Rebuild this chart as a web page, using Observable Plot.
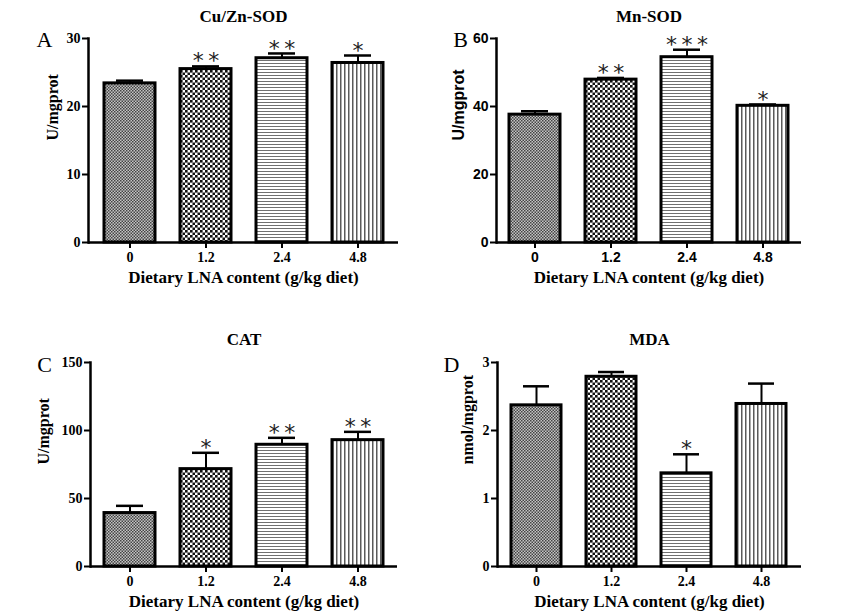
<!DOCTYPE html>
<html>
<head>
<meta charset="utf-8">
<script src="https://cdn.jsdelivr.net/npm/d3@7"></script>
<script src="https://cdn.jsdelivr.net/npm/@observablehq/plot@0.6"></script>
<style>
  html, body { margin: 0; padding: 0; background: #fff; }
  #wrap { position: relative; width: 850px; height: 611px; background: #fff; overflow: hidden; }
  #wrap > svg.panel { position: absolute; }
</style>
</head>
<body>
<svg width="0" height="0" style="position:absolute">
  <defs>
    <pattern id="p0" patternUnits="userSpaceOnUse" width="3" height="3">
      <rect width="3" height="3" fill="#c4c4c4"></rect>
      <rect x="0" y="0" width="1.5" height="1.5" fill="#444"></rect>
      <rect x="1.5" y="1.5" width="1.5" height="1.5" fill="#444"></rect>
    </pattern>
    <pattern id="p1" patternUnits="userSpaceOnUse" width="5" height="5">
      <rect width="5" height="5" fill="#ffffff"></rect>
      <rect x="0" y="0" width="2.6" height="2.6" fill="#111"></rect>
      <rect x="2.5" y="2.5" width="2.6" height="2.6" fill="#111"></rect>
    </pattern>
    <pattern id="p2" patternUnits="userSpaceOnUse" width="4" height="3">
      <rect width="4" height="3" fill="#ffffff"></rect>
      <rect x="0" y="0" width="4" height="1" fill="#707070"></rect>
    </pattern>
    <pattern id="p3" patternUnits="userSpaceOnUse" width="4" height="4">
      <rect width="4" height="4" fill="#ffffff"></rect>
      <rect x="0" y="0" width="1.5" height="4" fill="#5a5a5a"></rect>
    </pattern>
  </defs>
</svg>
<div id="wrap"></div>
<script>
// ---- data ----
const doses = ["0", "1.2", "2.4", "4.8"];
const patterns = ["url(#p0)", "url(#p1)", "url(#p2)", "url(#p3)"];

const cuZnSod = [23.4, 25.5, 27.1, 26.4];
const cuZnSodErr = [0.4, 0.4, 0.7, 1.1];
const cuZnSodStars = ["", "**", "**", "*"];

const mnSod = [37.6, 47.9, 54.5, 40.2];
const mnSodErr = [1.0, 0.5, 2.2, 0.4];
const mnSodStars = ["", "**", "***", "*"];

const cat = [39.3, 71.6, 89.5, 92.9];
const catErr = [5.3, 12.0, 5.1, 6.1];
const catStars = ["", "*", "**", "**"];

const mda = [2.37, 2.79, 1.37, 2.39];
const mdaErr = [0.28, 0.07, 0.28, 0.30];
const mdaStars = ["", "", "*", ""];

const xTitle = "Dietary LNA content (g/kg diet)";

const SERIF = "'Liberation Serif', 'Times New Roman', serif";
const SANS = "'Liberation Sans', Arial, sans-serif";

function panel(cfg) {
  const data = doses.map((d, i) => ({
    dose: d, value: cfg.values[i], err: cfg.errs[i],
    stars: cfg.stars[i].split("").join("\u2009")
  }));
  const tickFont = cfg.tickFont;
  const marks = [];
  doses.forEach((d, i) => {
    marks.push(Plot.barY(data, {
      filter: r => r.dose === d, x: "dose", y: "value",
      fill: patterns[i], stroke: "black", strokeWidth: 3
    }));
  });
  marks.push(
    Plot.ruleX(data, {x: "dose", y1: "value", y2: r => r.value + r.err, stroke: "black", strokeWidth: 2}),
    Plot.tickY(data, {x: "dose", y: r => r.value + r.err, stroke: "black", strokeWidth: 2.5, insetLeft: 12, insetRight: 12}),
    Plot.text(data, {x: "dose", y: r => r.value + r.err, text: "stars", dy: -5, fontSize: 22, fontFamily: "'DejaVu Sans', sans-serif", fill: "#222"}),
    Plot.ruleY([0], {stroke: "black", strokeWidth: 2.5}),
    Plot.frame({anchor: "left", stroke: "black", strokeWidth: 2.5}),
    Plot.axisY({ticks: cfg.ticks, tickFormat: d3.format("~g"), tickSize: 6, tickPadding: 2, strokeWidth: 2, fontSize: 14, fontWeight: "bold", fontFamily: tickFont, label: null}),
    Plot.axisX({tickSize: 6, tickPadding: 4, strokeWidth: 2, fontSize: 14, fontWeight: "bold", fontFamily: tickFont, label: null}),
    Plot.text([cfg.title], {frameAnchor: "top", dy: cfg.titleDy, text: d => d, fontSize: 17, fontWeight: "bold", fontFamily: SERIF}),
    Plot.text([cfg.letter], {frameAnchor: "top-left", dx: cfg.letterDx, dy: cfg.letterDy, text: d => d, fontSize: 22, fontFamily: SERIF, textAnchor: "middle"}),
    Plot.text([cfg.yTitle], {frameAnchor: "left", rotate: -90, dx: cfg.yLabelDx, text: d => d, fontSize: 16, fontWeight: "bold", fontFamily: cfg.yFont}),
    Plot.text([xTitle], {frameAnchor: "bottom", dy: 40, text: d => d, fontSize: 17, fontWeight: "bold", fontFamily: SERIF})
  );
  const svg = Plot.plot({
    width: 425,
    height: cfg.height,
    marginLeft: cfg.ml, marginRight: cfg.mr, marginTop: cfg.mt, marginBottom: cfg.mb,
    style: {background: "transparent", color: "black", overflow: "visible"},
    x: {domain: doses, paddingInner: 0.333, paddingOuter: cfg.po},
    y: {domain: cfg.domain},
    marks
  });
  svg.classList.add("panel");
  svg.style.left = cfg.left + "px";
  svg.style.top = cfg.top + "px";
  document.getElementById("wrap").appendChild(svg);
}

panel({left: 0, top: 0, height: 300, ml: 88, mr: 27, mt: 38, mb: 58, po: 0.19,
  values: cuZnSod, errs: cuZnSodErr, stars: cuZnSodStars, domain: [0, 30], ticks: [0, 10, 20, 30],
  title: "Cu/Zn-SOD", letter: "A", yTitle: "U/mgprot", tickFont: SERIF, yFont: SERIF,
  titleDy: -29, letterDx: -44, letterDy: -7, yLabelDx: -36});

panel({left: 425, top: 0, height: 300, ml: 71, mr: 49, mt: 38, mb: 58, po: 0.17,
  values: mnSod, errs: mnSodErr, stars: mnSodStars, domain: [0, 60], ticks: [0, 20, 40, 60],
  title: "Mn-SOD", letter: "B", yTitle: "U/mgprot", tickFont: SANS, yFont: SANS,
  titleDy: -29, letterDx: -36, letterDy: -7, yLabelDx: -38});

panel({left: 0, top: 300, height: 311, ml: 90, mr: 28, mt: 62, mb: 45, po: 0.17,
  values: cat, errs: catErr, stars: catStars, domain: [0, 150], ticks: [0, 50, 100, 150],
  title: "CAT", letter: "C", yTitle: "U/mgprot", tickFont: SERIF, yFont: SERIF,
  titleDy: -30, letterDx: -46, letterDy: -6, yLabelDx: -47});

panel({left: 425, top: 300, height: 311, ml: 72, mr: 49, mt: 62, mb: 45, po: 0.17,
  values: mda, errs: mdaErr, stars: mdaStars, domain: [0, 3], ticks: [0, 1, 2, 3],
  title: "MDA", letter: "D", yTitle: "nmol/mgprot", tickFont: SERIF, yFont: SERIF,
  titleDy: -30, letterDx: -46, letterDy: -6, yLabelDx: -30});
</script>
</body>
</html>
